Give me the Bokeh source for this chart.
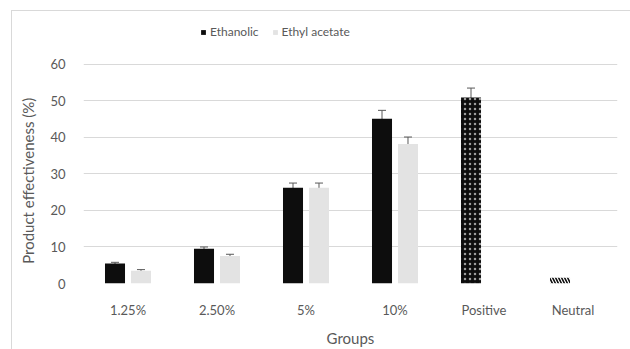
from bokeh.plotting import figure
from bokeh.layouts import column
from bokeh.models import ColumnDataSource, Whisker, Legend, LegendItem
from bokeh.transform import dodge
from bokeh.embed import file_html
from bokeh.resources import INLINE

groups = ["1.25%", "2.50%", "5%", "10%", "Positive", "Neutral"]
conc_groups = ["1.25%", "2.50%", "5%", "10%"]
ethanolic = [5.5, 9.5, 26.2, 45.1]
ethanolic_err = [0.3, 0.5, 1.3, 2.3]
ethyl_acetate = [3.5, 7.5, 26.2, 38.2]
ethyl_acetate_err = [0.3, 0.5, 1.3, 1.9]
positive_value = [50.9]
positive_err = [2.6]
neutral_value = [1.6]
neutral_err = [0.1]
y_ticks = [0, 10, 20, 30, 40, 50, 60]

FONT = "Lato"
GRAY = "#595959"

# frame extends above 60 so the legend can sit inside it (top area)
p = figure(x_range=groups, y_range=(0, 72), width=618, height=338,
           output_backend="svg", toolbar_location=None,
           min_border_left=71, min_border_right=13, min_border_top=9,
           min_border_bottom=65)
p.outline_line_color = None

OFF = 0.146
W = 0.225

def lo_hi(vals, errs):
    return [v - e for v, e in zip(vals, errs)], [v + e for v, e in zip(vals, errs)]

lo, hi = lo_hi(ethanolic, ethanolic_err)
src_e = ColumnDataSource(dict(x=conc_groups, top=ethanolic, lo=lo, hi=hi))
lo, hi = lo_hi(ethyl_acetate, ethyl_acetate_err)
src_a = ColumnDataSource(dict(x=conc_groups, top=ethyl_acetate, lo=lo, hi=hi))
lo, hi = lo_hi(positive_value, positive_err)
src_p = ColumnDataSource(dict(x=["Positive"], top=positive_value, lo=lo, hi=hi))
lo, hi = lo_hi(neutral_value, neutral_err)
src_n = ColumnDataSource(dict(x=["Neutral"], top=neutral_value, lo=lo, hi=hi))

r_e = p.vbar(x=dodge("x", -OFF, range=p.x_range), top="top", width=W, source=src_e,
             fill_color="#0d0d0d", line_color=None)
r_a = p.vbar(x=dodge("x", OFF, range=p.x_range), top="top", width=W, source=src_a,
             fill_color="#e3e3e3", line_color=None)
p.vbar(x=dodge("x", -OFF, range=p.x_range), top="top", width=W, source=src_p,
       fill_color="#0d0d0d", line_color=None, hatch_pattern=".",
       hatch_color="white", hatch_scale=5, hatch_weight=0.6, hatch_alpha=0.6)
p.vbar(x=dodge("x", -OFF, range=p.x_range), top="top", width=W, source=src_n,
       fill_color="white", line_color=None, hatch_pattern="\\",
       hatch_color="#0d0d0d", hatch_scale=6, hatch_weight=1.6)

for src, off in [(src_e, -OFF), (src_a, OFF), (src_p, -OFF)]:
    wk = Whisker(base=dodge("x", off, range=p.x_range), lower="lo", upper="hi",
                 source=src, line_color=GRAY, line_width=1)
    wk.upper_head.size = 8
    wk.lower_head.size = 8
    wk.upper_head.line_color = GRAY
    wk.lower_head.line_color = GRAY
    p.add_layout(wk)

legend = Legend(items=[LegendItem(label="Ethanolic", renderers=[r_e]),
                       LegendItem(label="Ethyl acetate", renderers=[r_a])],
                orientation="horizontal", location=(117, 244),
                label_text_font=FONT, label_text_font_size="12px",
                label_text_color=GRAY, glyph_width=6, glyph_height=6,
                label_standoff=4, spacing=13, border_line_color=None,
                background_fill_alpha=0, margin=0, padding=0,
                label_height=14)
p.add_layout(legend)

p.xgrid.grid_line_color = None
p.ygrid.grid_line_color = "#d9d9d9"
p.ygrid.grid_line_width = 1
p.yaxis.ticker = y_ticks

for ax in [p.xaxis[0], p.yaxis[0]]:
    ax.axis_line_color = None
    ax.major_tick_line_color = None
    ax.minor_tick_line_color = None
    ax.major_label_text_font = FONT
    ax.major_label_text_font_size = "13px"
    ax.major_label_text_color = GRAY
    ax.axis_label_text_font = FONT
    ax.axis_label_text_font_size = "15px"
    ax.axis_label_text_color = GRAY
    ax.axis_label_text_font_style = "normal"

p.xaxis.axis_label = "Groups"
p.yaxis.axis_label = "Product effectiveness (%)" + "\u00a0" * 15
p.xaxis.major_label_standoff = 12
p.yaxis.major_label_standoff = 12
p.xaxis.axis_label_standoff = 8
p.yaxis.axis_label_standoff = 10

layout = column(p, margin=(10, 0, 0, 11),
                styles={"border-top": "1px solid #d9d9d9",
                        "border-left": "1px solid #d9d9d9"})

open("out.html", "w").write(file_html(layout, INLINE))
